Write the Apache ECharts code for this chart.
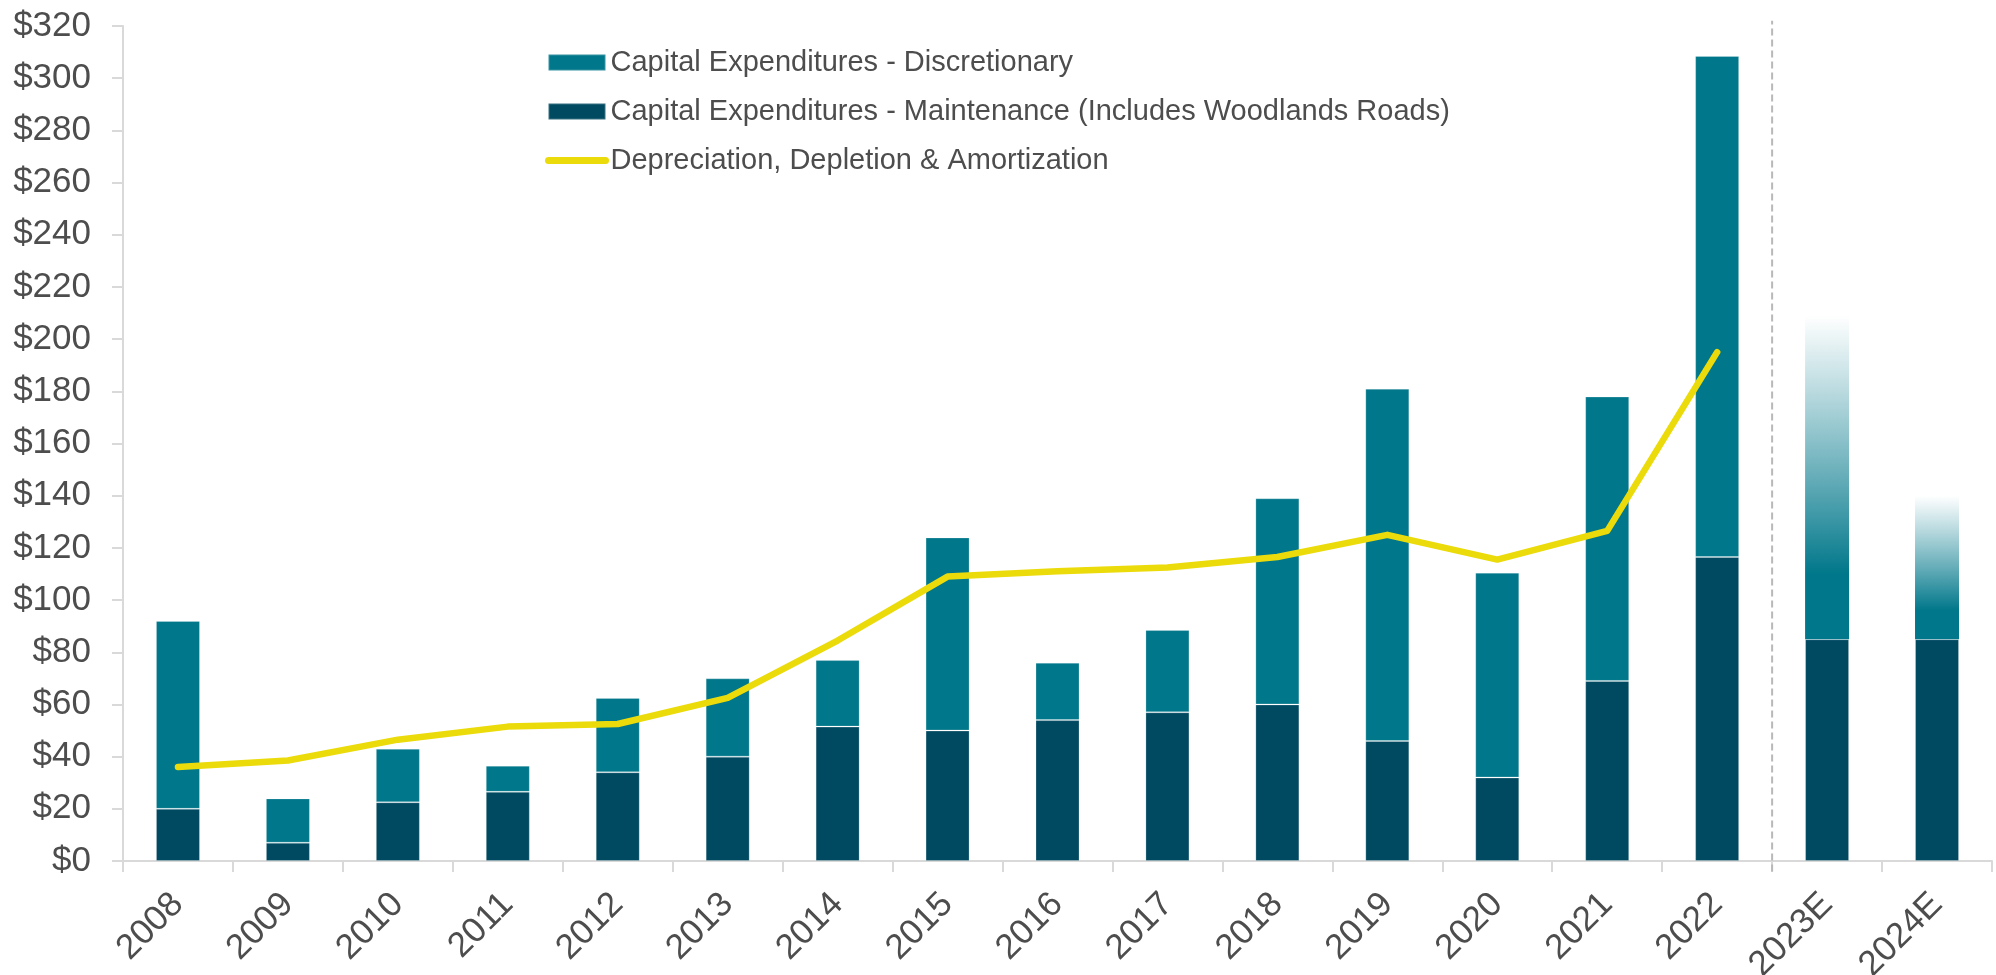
<!DOCTYPE html>
<html>
<head>
<meta charset="UTF-8" />
<title>CapEx vs DD&A</title>
<style>
  html, body { margin: 0; padding: 0; background: #fff }
  #chart { width: 1996px; height: 975px }
</style>
<script src="https://cdn.jsdelivr.net/npm/echarts@6/dist/echarts.min.js"></script>
</head>
<body>
<div id="chart"></div>
<script>
  // 数据（百万美元）
  const years = ['2008', '2009', '2010', '2011', '2012', '2013', '2014', '2015', '2016',
                 '2017', '2018', '2019', '2020', '2021', '2022', '2023E', '2024E'];
  const maintenance = [20, 7, 22.5, 26.5, 34, 40, 51.5, 50, 54, 57, 60, 46, 32, 69, 116.5, 85, 85];
  const discretionary = [72, 17, 20.5, 10, 28.5, 30, 25.5, 74, 22, 31.5, 79, 135, 78.5, 109, 192, 124, 55];
  const dda = [36, 38.5, 46.5, 51.5, 52.5, 62.5, 84.5, 109, 111, 112.5, 116.5, 125, 115.5, 126.5, 195, null, null];
  const estimateYears = ['2023E', '2024E'];
  // 实际 / 预估 分隔线（位于第 15 个类目边界）
  const splitAt = [[15, -4], [15, 322]];

  const TEAL = '#00778a';
  const NAVY = '#004a61';
  const YELLOW = '#ebdb0b';
  const TEXT = '#4d4d4d';
  const FONT = "Arial, 'Liberation Sans', sans-serif";

  const discData = discretionary.map((v, i) => {
    if (!estimateYears.includes(years[i])) return v;
    return {
      value: v,
      itemStyle: {
        borderWidth: 0,
        color: new echarts.graphic.LinearGradient(0, 0, 0, 1, [
          { offset: 0, color: 'rgba(255,255,255,0.9)' },
          { offset: 0.8, color: TEAL },
          { offset: 1, color: TEAL }
        ])
      }
    };
  });

  const chart = echarts.init(document.getElementById('chart'));
  chart.setOption({
    backgroundColor: '#fff',
    animation: false,
    textStyle: { fontFamily: FONT },
    grid: { left: 123, right: 4, top: 26, bottom: 114, containLabel: false, outerBoundsMode: 'none' },
    legend: {
      orient: 'vertical',
      left: 545,
      top: 48,
      padding: 0,
      itemWidth: 57,
      itemHeight: 16,
      itemGap: 20,
      textStyle: { fontSize: 29, color: TEXT, fontFamily: FONT, lineHeight: 29 },
      data: [
        { name: 'Capital Expenditures - Discretionary', icon: 'rect' },
        { name: 'Capital Expenditures - Maintenance (Includes Woodlands Roads)', icon: 'rect' },
        {
          name: 'Depreciation, Depletion & Amortization',
          itemStyle: { opacity: 0 },
          lineStyle: { width: 7, cap: 'round', color: YELLOW }
        }
      ]
    },
    xAxis: [{
      type: 'category',
      data: years,
      axisLine: { lineStyle: { color: '#d9d9d9', width: 2 } },
      axisTick: { show: true, length: 11, lineStyle: { color: '#d9d9d9', width: 2 } },
      axisLabel: { rotate: 45, fontSize: 35, color: TEXT, margin: 38, fontFamily: FONT }
    }, {
      type: 'value',
      min: 0,
      max: years.length,
      show: false
    }],
    yAxis: {
      type: 'value',
      min: 0,
      max: 320,
      interval: 20,
      splitLine: { show: false },
      axisLine: { show: true, lineStyle: { color: '#d9d9d9', width: 2 } },
      axisTick: { show: true, length: 11, lineStyle: { color: '#d9d9d9', width: 2 } },
      axisLabel: { fontSize: 35, color: TEXT, margin: 32, fontFamily: FONT, formatter: v => '$' + v }
    },
    series: [{
      name: 'Capital Expenditures - Maintenance (Includes Woodlands Roads)',
      type: 'bar',
      stack: 'capex',
      barWidth: 44,
      itemStyle: { color: NAVY, borderColor: 'rgba(255,255,255,0.22)', borderWidth: 1 },
      data: maintenance
    }, {
      name: 'Capital Expenditures - Discretionary',
      type: 'bar',
      stack: 'capex',
      barWidth: 44,
      itemStyle: { color: TEAL, borderColor: 'rgba(255,255,255,0.22)', borderWidth: 1 },
      data: discData
    }, {
      name: 'Depreciation, Depletion & Amortization',
      type: 'line',
      symbol: 'none',
      z: 5,
      itemStyle: { color: YELLOW },
      lineStyle: { color: YELLOW, width: 6.5, cap: 'round', join: 'round' },
      data: dda
    }, {
      name: 'split',
      type: 'line',
      xAxisIndex: 1,
      symbol: 'none',
      clip: false,
      silent: true,
      lineStyle: { color: '#b8b8b8', width: 2, type: [7, 4] },
      data: splitAt
    }]
  });
</script>
</body>
</html>
